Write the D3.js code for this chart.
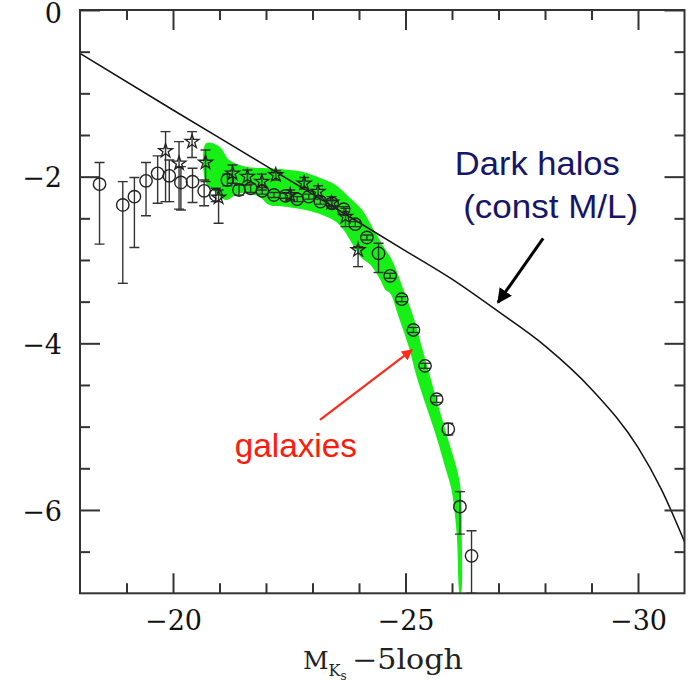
<!DOCTYPE html>
<html>
<head>
<meta charset="utf-8">
<script src="https://cdn.jsdelivr.net/npm/d3@7"></script>
<style>
  body { margin: 0; background: #fff; }
  svg { display: block; }
</style>
</head>
<body>
<svg id="chart" width="691" height="684"></svg>
<script>
// Axis settings
const xDomain = [-18, -31];
const yDomain = [-7, 0];
const xMajorTicks = [-20, -25, -30];
const xMinorTicks = [-19, -21, -22, -23, -24, -26, -27, -28, -29];
const yMajorTicks = [0, -2, -4, -6];
const yMinorTicks = [-0.5, -1, -1.5, -2.5, -3, -3.5, -4.5, -5, -5.5, -6.5];

// Dark halo abundance (constant M/L)
const haloMag  = [-18, -20, -22, -24, -25, -26, -27, -28, -29, -30, -30.5, -31];
const haloLogN = [-0.52, -1.20, -1.87, -2.55, -2.89, -3.23, -3.62, -4.03, -4.55, -5.25, -5.75, -6.38];

// Galaxy luminosity function: open circles
const circleMag  = [-18.42, -18.92, -19.17, -19.42, -19.67, -19.92, -20.17, -20.42, -20.67, -20.92,
                    -21.17, -21.42, -21.67, -21.92, -22.17, -22.42, -22.67, -22.92, -23.17, -23.42,
                    -23.67, -23.92, -24.17, -24.42, -24.67, -24.92, -25.17, -25.42, -25.67, -25.92,
                    -26.17, -26.42];
const circleLogN = [-2.09, -2.34, -2.24, -2.05, -1.96, -1.99, -2.07, -2.06, -2.17, -2.22,
                    -2.04, -2.16, -2.14, -2.17, -2.22, -2.23, -2.27, -2.24, -2.30, -2.32,
                    -2.39, -2.57, -2.73, -2.92, -3.19, -3.47, -3.84, -4.27, -4.67, -5.03,
                    -5.96, -6.55];
const circleHi   = [-1.83, -2.06, -2.01, -1.83, -1.75, -1.80, -1.88, -1.90, -2.04, -2.14,
                    -1.97, -2.10, -2.09, -2.13, -2.19, -2.20, -2.24, -2.21, -2.27, -2.29,
                    -2.36, -2.54, -2.70, -2.80, -3.16, -3.44, -3.81, -4.24, -4.63, -4.96,
                    -5.78, -6.25];
const circleLo   = [-2.81, -3.28, -2.85, -2.47, -2.32, -2.30, -2.40, -2.31, -2.35, -2.30,
                    -2.11, -2.22, -2.19, -2.21, -2.25, -2.26, -2.30, -2.27, -2.33, -2.35,
                    -2.42, -2.60, -2.76, -3.15, -3.22, -3.50, -3.87, -4.30, -4.71, -5.10,
                    -6.29, -7.00];

// Galaxy luminosity function: stars
const starMag  = [-19.84, -20.13, -20.41, -20.70, -20.98, -21.28, -21.60, -21.91, -22.21, -22.52,
                  -22.82, -23.12, -23.41, -23.71, -23.98];
const starLogN = [-1.69, -1.84, -1.58, -1.83, -2.25, -1.96, -2.00, -2.06, -1.98, -2.22,
                  -2.08, -2.18, -2.31, -2.48, -2.88];
const starHi   = [-1.46, -1.58, -1.46, -1.68, -2.16, -1.86, -1.92, -1.97, -1.93, -2.16,
                  -2.01, -2.11, -2.24, -2.38, -2.84];
const starLo   = [-2.30, -2.39, -1.77, -2.06, -2.56, -2.08, -2.10, -2.16, -2.04, -2.28,
                  -2.15, -2.25, -2.38, -2.60, -3.08];

// Model band outline (upper edge left to right, then lower edge back)
const bandMag  = [-20.71, -21.00, -21.21, -21.57, -22.10, -22.50, -22.78, -23.28, -23.50, -23.78,
                  -24.07, -24.28, -24.53, -24.71, -24.96, -25.17, -25.35, -25.53, -25.71, -25.92,
                  -26.17, -26.21, -26.19,
                  -26.17, -26.10, -25.99, -25.85, -25.64, -25.46, -25.24, -25.07, -24.85, -24.67,
                  -24.57, -24.46, -24.25, -24.03, -23.85, -23.67, -23.50, -23.21, -22.85, -22.42,
                  -22.07, -21.85, -21.43, -21.14, -20.90, -20.71];
const bandLogN = [-1.60, -1.64, -1.80, -1.88, -1.90, -1.92, -1.94, -2.04, -2.10, -2.24,
                  -2.40, -2.60, -2.84, -3.00, -3.36, -3.68, -4.04, -4.40, -4.76, -5.16,
                  -5.68, -6.28, -7.00,
                  -7.00, -6.28, -5.76, -5.48, -5.08, -4.78, -4.40, -4.04, -3.68, -3.40,
                  -3.36, -3.24, -3.06, -2.96, -2.80, -2.64, -2.54, -2.46, -2.40, -2.36,
                  -2.34, -2.24, -2.20, -2.28, -2.18, -2.08];

// Annotation texts
const haloLabel = ["Dark halos", "(const M/L)"];
const galaxyLabel = "galaxies";
const xTitleMain = "M";
const xTitleSub = "K";
const xTitleSubSub = "s";
const xTitleRest = "\u22125logh";

const svg = d3.select("#chart");
const plot = { left: 80, right: 684.5, top: 10, bottom: 593.3 };

const x = d3.scaleLinear().domain(xDomain).range([plot.left, plot.right]);
const y = d3.scaleLinear().domain(yDomain).range([plot.bottom, plot.top]);

svg.append("defs").append("clipPath").attr("id", "plotClip")
  .append("rect")
  .attr("x", plot.left).attr("y", plot.top)
  .attr("width", plot.right - plot.left).attr("height", plot.bottom - plot.top);

const g = svg.append("g").attr("clip-path", "url(#plotClip)");

// Model band
const band = bandMag.map((m, i) => [x(m), y(bandLogN[i])]);
g.append("path")
  .attr("d", d3.line().curve(d3.curveCatmullRomClosed.alpha(0.5))(band))
  .attr("fill", "#16f016")
  .attr("stroke", "none");

// Dark halo curve
const halo = haloMag.map((m, i) => [x(m), y(haloLogN[i])]);
g.append("path")
  .attr("d", d3.line().curve(d3.curveMonotoneX)(halo))
  .attr("fill", "none")
  .attr("stroke", "#111")
  .attr("stroke-width", 1.5);

// Error bars
function errorBars(mags, his, los) {
  const eb = g.append("g").attr("stroke", "#333").attr("stroke-width", 1.4).attr("fill", "none");
  mags.forEach((m, i) => {
    const cx = x(m), y1 = y(his[i]), y2 = y(los[i]);
    eb.append("line").attr("x1", cx).attr("x2", cx).attr("y1", y1).attr("y2", y2);
    eb.append("line").attr("x1", cx - 5).attr("x2", cx + 5).attr("y1", y1).attr("y2", y1);
    eb.append("line").attr("x1", cx - 5).attr("x2", cx + 5).attr("y1", y2).attr("y2", y2);
  });
}
errorBars(circleMag, circleHi, circleLo);
errorBars(starMag, starHi, starLo);

// Circles
g.append("g").selectAll("circle")
  .data(circleMag.map((m, i) => [m, circleLogN[i]]))
  .join("circle")
  .attr("cx", d => x(d[0]))
  .attr("cy", d => y(d[1]))
  .attr("r", 6.2)
  .attr("fill", "none")
  .attr("stroke", "#222")
  .attr("stroke-width", 1.4);

// Stars
const star = d3.symbol().type(d3.symbolStar).size(60);
g.append("g").selectAll("path")
  .data(starMag.map((m, i) => [m, starLogN[i]]))
  .join("path")
  .attr("d", star)
  .attr("transform", d => `translate(${x(d[0])},${y(d[1])})`)
  .attr("fill", "none")
  .attr("stroke", "#222")
  .attr("stroke-width", 1.3);

// Axes with inward ticks on all four sides
function addAxis(axisFn, transform, values, size, labels) {
  const a = axisFn.tickValues(values).tickSizeInner(-size).tickSizeOuter(0)
    .tickPadding(labels ? 10 : 0)
    .tickFormat(labels ? (d => d === 0 ? "0" : "\u2212" + Math.abs(d)) : "");
  const ag = svg.append("g").attr("transform", transform).call(a);
  ag.select(".domain").remove();
  ag.selectAll(".tick line").attr("stroke", "#333").attr("stroke-width", 2);
  return ag;
}
const xb = addAxis(d3.axisBottom(x), `translate(0,${plot.bottom})`, xMajorTicks, 20, true);
addAxis(d3.axisBottom(x), `translate(0,${plot.bottom})`, xMinorTicks, 10, false);
addAxis(d3.axisTop(x), `translate(0,${plot.top})`, xMajorTicks, 20, false);
addAxis(d3.axisTop(x), `translate(0,${plot.top})`, xMinorTicks, 10, false);
const yl = addAxis(d3.axisLeft(y), `translate(${plot.left},0)`, yMajorTicks, 20, true);
addAxis(d3.axisLeft(y), `translate(${plot.left},0)`, yMinorTicks, 10, false);
addAxis(d3.axisRight(y), `translate(${plot.right},0)`, yMajorTicks, 20, false);
addAxis(d3.axisRight(y), `translate(${plot.right},0)`, yMinorTicks, 10, false);

xb.selectAll(".tick text")
  .attr("font-family", "'DejaVu Serif', serif")
  .attr("font-size", 27).attr("fill", "#111")
  .attr("dy", "0.71em").attr("y", 18);
yl.selectAll(".tick text")
  .attr("font-family", "'DejaVu Serif', serif")
  .attr("font-size", 27).attr("fill", "#111")
  .attr("x", -18)
  .attr("dy", d => d === 0 ? "0.45em" : "0.38em");

// Frame
svg.append("rect")
  .attr("x", plot.left).attr("y", plot.top)
  .attr("width", plot.right - plot.left).attr("height", plot.bottom - plot.top)
  .attr("fill", "none").attr("stroke", "#333").attr("stroke-width", 2);

// X axis title
const xt = svg.append("text")
  .attr("x", 303).attr("y", 669)
  .attr("font-family", "'DejaVu Serif', serif").attr("fill", "#222");
xt.append("tspan").attr("font-size", 25).text(xTitleMain);
xt.append("tspan").attr("font-size", 16).attr("dy", 7).text(xTitleSub);
xt.append("tspan").attr("font-size", 12).attr("dy", 4).text(xTitleSubSub);
xt.append("tspan").attr("x", 352).attr("y", 669).attr("font-size", 27)
  .attr("textLength", 111).attr("lengthAdjust", "spacingAndGlyphs").text(xTitleRest);

// Arrow heads
const defs = svg.select("defs");
function arrowMarker(id, color) {
  defs.append("marker").attr("id", id)
    .attr("viewBox", "0 0 10 10").attr("refX", 9).attr("refY", 5)
    .attr("markerWidth", 5).attr("markerHeight", 5)
    .attr("markerUnits", "strokeWidth")
    .attr("orient", "auto")
    .append("path").attr("d", "M0,0 L10,5 L0,10 Z").attr("fill", color);
}
arrowMarker("arrRed", "#ff2a1a");
arrowMarker("arrBlack", "#000");

// Halo annotation
const haloText = svg.append("text")
  .attr("font-family", "'Liberation Sans', Arial, sans-serif")
  .attr("font-size", 33).attr("fill", "#161668");
haloText.append("tspan").attr("x", x(-26.06)).attr("y", y(-1.98))
  .attr("textLength", 165).attr("lengthAdjust", "spacingAndGlyphs").text(haloLabel[0]);
haloText.append("tspan").attr("x", x(-26.24)).attr("y", y(-2.50))
  .attr("textLength", 175).attr("lengthAdjust", "spacingAndGlyphs").text(haloLabel[1]);
svg.append("line")
  .attr("x1", x(-27.96)).attr("y1", y(-2.74))
  .attr("x2", x(-26.99)).attr("y2", y(-3.51))
  .attr("stroke", "#000").attr("stroke-width", 3)
  .attr("marker-end", "url(#arrBlack)");

// Galaxy annotation
svg.append("text")
  .attr("x", x(-21.33)).attr("y", y(-5.37))
  .attr("font-family", "'Liberation Sans', Arial, sans-serif")
  .attr("font-size", 33).attr("fill", "#ff1a0a")
  .attr("textLength", 122).attr("lengthAdjust", "spacingAndGlyphs")
  .text(galaxyLabel);
svg.append("line")
  .attr("x1", x(-23.16)).attr("y1", y(-4.92))
  .attr("x2", x(-25.14)).attr("y2", y(-4.08))
  .attr("stroke", "#ff2a1a").attr("stroke-width", 2.2)
  .attr("marker-end", "url(#arrRed)");
</script>
</body>
</html>
